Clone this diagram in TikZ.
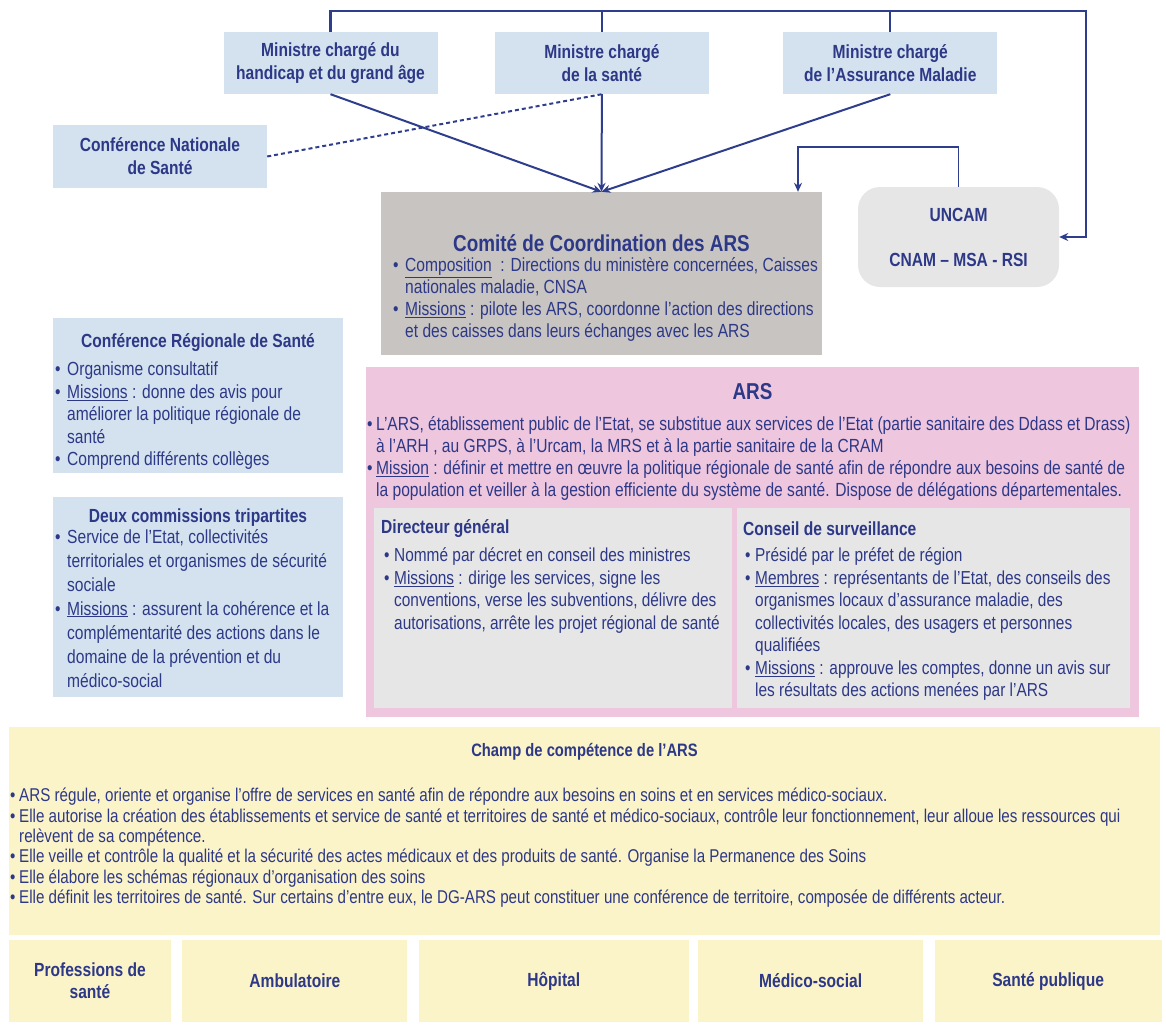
\documentclass[tikz,border=0pt]{standalone}
\usepackage{fontspec}
\setmainfont{Liberation Sans}[FakeStretch=0.82]
\usetikzlibrary{arrows.meta, positioning, calc}

\definecolor{navy}{RGB}{45,56,135}
\definecolor{linkblue}{RGB}{47,62,140}
\definecolor{paleblue}{RGB}{212,226,239}
\definecolor{comitegrey}{RGB}{199,196,194}
\definecolor{lightgrey}{RGB}{230,230,231}
\definecolor{arspink}{RGB}{238,199,223}
\definecolor{champyellow}{RGB}{252,244,201}

\newcommand{\puce}[1][12pt]{\strut\makebox[#1][l]{\textbullet}}
\newcommand{\retrait}[1][12pt]{\strut\hspace*{#1}}

\begin{document}
\begin{tikzpicture}[
    x=1pt, y=-1pt,
    box/.style={rectangle, inner sep=0pt, align=center, text=navy},
    ministre/.style={box, fill=paleblue, minimum width=214pt, minimum height=62pt, font=\bfseries\fontsize{19}{23}\selectfont},
    titre/.style={box, font=\bfseries\fontsize{19}{22}\selectfont},
    body/.style={inner sep=0pt, align=left, text=navy, anchor=north west, font=\fontsize{19}{22}\selectfont},
    secteur/.style={box, fill=champyellow, minimum height=82pt, font=\bfseries\fontsize{19}{22}\selectfont},
    arrow/.style={-{Stealth[length=9pt,width=8pt]}, line width=2pt, draw=linkblue},
    link/.style={line width=2pt, draw=linkblue}
]
    \useasboundingbox (0,0) rectangle (1166,1025);

    % Ministres
    \node[ministre] (min1) at (330.5,63) {Ministre chargé du\\handicap et du grand âge};
    \node[ministre, right=57pt of min1] (min2) {Ministre chargé\\de la santé};
    \node[ministre, right=74pt of min2] (min3) {Ministre chargé\\de l'Assurance Maladie};
    \node[ministre, minimum height=63pt] (cns) at (160,156.5) {Conférence Nationale\\de Santé};

    % Comite de coordination
    \node[box, fill=comitegrey, minimum width=441pt, minimum height=163pt] (comite) at (601.5,273.5) {};
    \node[box, font=\bfseries\fontsize{23}{26}\selectfont] (comitetitre) at (601.5,243) {Comité de Coordination des ARS};
    \node[body] (comitetxt) at (393,256) {\puce\underline{Composition}\ \ : Directions du ministère concernées, Caisses\\
        \retrait nationales maladie, CNSA\\
        \puce\underline{Missions} : pilote les ARS, coordonne l'action des directions\\
        \retrait et des caisses dans leurs échanges avec les ARS};

    \node[box, fill=lightgrey, rounded corners=22pt, minimum width=201pt, minimum height=100pt, font=\bfseries\fontsize{19}{45}\selectfont] (uncam) at (958.5,237) {UNCAM\\CNAM – MSA - RSI};

    % Connexions
    \coordinate (bus) at (1086,11);
    \coordinate (boucle) at (798,147);
    \draw[arrow, line width=2.5pt] (min1.north) |- (bus) |- (uncam.east);
    \draw[link] (min2.north) -- (min2.north |- bus);
    \draw[link] (min3.north) -- (min3.north |- bus);
    \draw[arrow] (min1.south) -- (comite.north);
    \draw[arrow] (min2.south) -- (comite.north);
    \draw[arrow] (min3.south) -- (comite.north);
    \draw[link, dash pattern=on 4pt off 3pt] (cns.east) -- (min2.south);
    \draw[arrow, line width=1.5pt] (uncam.north) |- (boucle) -- (boucle |- comite.north);

    % Conferences regionales
    \node[box, fill=paleblue, minimum width=290pt, minimum height=155pt] (crs) at (198,395.5) {};
    \node[titre] (crstitre) at (198,343) {Conférence Régionale de Santé};
    \node[body, font=\fontsize{19}{22.5}\selectfont] (crstxt) at (55,360) {\puce Organisme consultatif\\
        \puce\underline{Missions} : donne des avis pour\\
        \retrait améliorer la politique régionale de\\
        \retrait santé\\
        \puce Comprend différents collèges};

    \node[box, fill=paleblue, minimum width=290pt, minimum height=200pt] (commissions) at (198,597) {};
    \node[titre] (commtitre) at (198,518) {Deux commissions tripartites};
    \node[body, font=\fontsize{19}{24}\selectfont] (commtxt) at (55,526) {\puce Service de l'Etat, collectivités\\
        \retrait territoriales et organismes de sécurité\\
        \retrait sociale\\
        \puce\underline{Missions} : assurent la cohérence et la\\
        \retrait complémentarité des actions dans le\\
        \retrait domaine de la prévention et du\\
        \retrait médico-social};

    % ARS
    \node[box, fill=arspink, minimum width=773pt, minimum height=350pt] (ars) at (752.5,542) {};
    \node[box, font=\bfseries\fontsize{23}{26}\selectfont] (arstitre) at (752.5,392) {ARS};
    \node[body] (arstxt) at (367,415) {\puce[9pt]L'ARS, établissement public de l'Etat, se substitue aux services de l'Etat (partie sanitaire des Ddass et Drass)\\
        \retrait[9pt]à l'ARH , au GRPS, à l'Urcam, la MRS et à la partie sanitaire de la CRAM\\
        \puce[9pt]\underline{Mission} : définir et mettre en œuvre la politique régionale de santé afin de répondre aux besoins de santé de\\
        \retrait[9pt]la population et veiller à la gestion efficiente du système de santé. Dispose de délégations départementales.};

    \node[box, fill=lightgrey, minimum width=358pt, minimum height=200pt] (dg) at (553,608) {};
    \node[titre, anchor=west] (dgtitre) at (381,529) {Directeur général};
    \node[body, font=\fontsize{18.8}{22.5}\selectfont] (dgtxt) at (384,546) {\puce[10pt]Nommé par décret en conseil des ministres\\
        \puce[10pt]\underline{Missions} : dirige les services, signe les\\
        \retrait[10pt]conventions, verse les subventions, délivre des\\
        \retrait[10pt]autorisations, arrête les projet régional de santé};

    \node[box, fill=lightgrey, minimum width=393pt, minimum height=200pt] (cs) at (933.5,608) {};
    \node[titre, anchor=west] (cstitre) at (743,529) {Conseil de surveillance};
    \node[body, font=\fontsize{18.8}{22.5}\selectfont] (cstxt) at (745,546) {\puce[10pt]Présidé par le préfet de région\\
        \puce[10pt]\underline{Membres} : représentants de l'Etat, des conseils des\\
        \retrait[10pt]organismes locaux d'assurance maladie, des\\
        \retrait[10pt]collectivités locales, des usagers et personnes\\
        \retrait[10pt]qualifiées\\
        \puce[10pt]\underline{Missions} : approuve les comptes, donne un avis sur\\
        \retrait[10pt]les résultats des actions menées par l'ARS};

    % Champ de competence
    \node[box, fill=champyellow, minimum width=1151pt, minimum height=208pt] (champ) at (584.5,831) {};
    \node[titre, font=\bfseries\fontsize{18}{20}\selectfont] (champtitre) at (584.5,752) {Champ de compétence de l'ARS};
    \node[body, font=\fontsize{18.5}{19}\selectfont] (champtxt) at (10,788) {\puce[9pt]ARS régule, oriente et organise l'offre de services en santé afin de répondre aux besoins en soins et en services médico-sociaux.\\
        \puce[9pt]Elle autorise la création des établissements et service de santé et territoires de santé et médico-sociaux, contrôle leur fonctionnement, leur alloue les ressources qui\\
        \retrait[9pt]relèvent de sa compétence.\\
        \puce[9pt]Elle veille et contrôle la qualité et la sécurité des actes médicaux et des produits de santé. Organise la Permanence des Soins\\
        \puce[9pt]Elle élabore les schémas régionaux d'organisation des soins\\
        \puce[9pt]Elle définit les territoires de santé. Sur certains d'entre eux, le DG-ARS peut constituer une conférence de territoire, composée de différents acteur.};

    % Secteurs
    \node[secteur, minimum width=162pt] (prof) at (90,981) {Professions de\\santé};
    \node[secteur, minimum width=225pt, right=11pt of prof] (ambu) {Ambulatoire};
    \node[secteur, minimum width=270pt, right=11pt of ambu] (hopital) {Hôpital};
    \node[secteur, minimum width=225pt, right=9pt of hopital] (medsoc) {Médico-social};
    \node[secteur, minimum width=227pt, right=11pt of medsoc] (santepub) {Santé publique};
\end{tikzpicture}
\end{document}
